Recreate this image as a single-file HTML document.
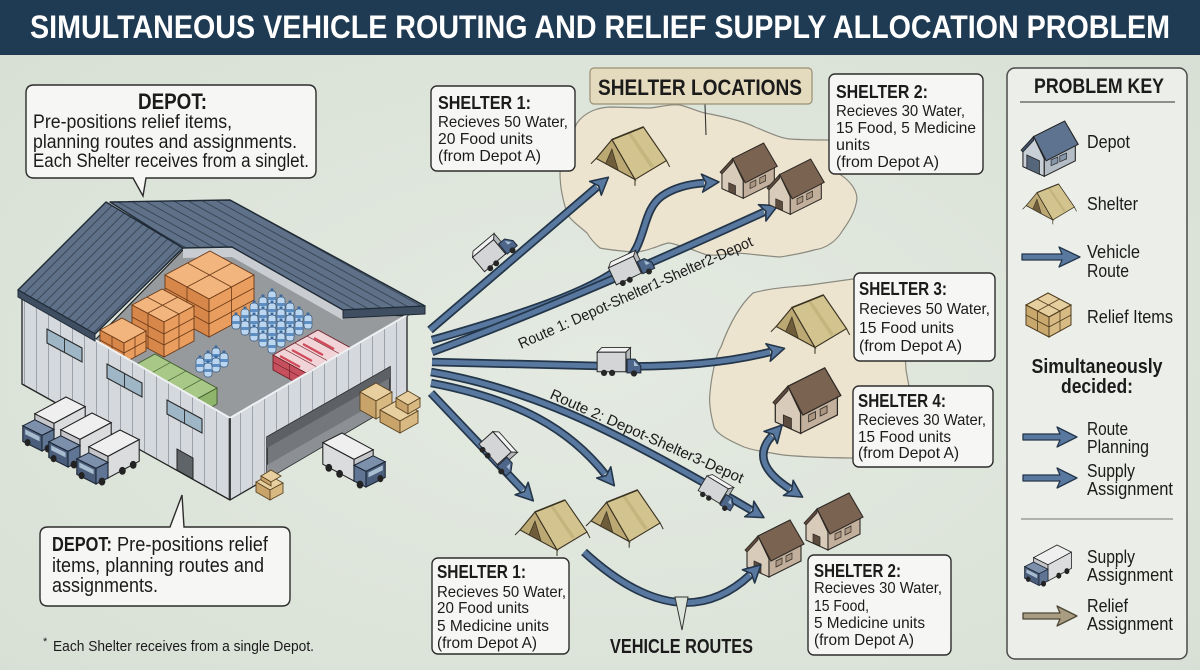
<!DOCTYPE html>
<html><head><meta charset="utf-8"><title>Simultaneous Vehicle Routing and Relief Supply Allocation Problem</title>
<style>
html,body{margin:0;padding:0;width:1200px;height:670px;overflow:hidden;background:#dde5da}
svg{display:block}
text{font-family:"Liberation Sans Narrow","Liberation Sans",sans-serif;fill:#1b1b1b}
.b{font-weight:bold}
.box{fill:#f6f7f4;stroke:#2d2d2d;stroke-width:1.4}
.ro{fill:none;stroke:#24364a;stroke-width:8.5}
.ri{fill:none;stroke:#5878a0;stroke-width:5}
.ol{stroke:#222;stroke-width:1.3;stroke-linejoin:round}
.cl{fill:none;stroke:#6b3a18;stroke-width:.8}
</style></head><body>
<svg xmlns="http://www.w3.org/2000/svg" width="1200" height="670" viewBox="0 0 1200 670">
<defs>
<radialGradient id="bg" cx="50%" cy="55%" r="75%"><stop offset="0" stop-color="#e4eae1"/><stop offset="1" stop-color="#d7dfd4"/></radialGradient>
<pattern id="wall" patternUnits="userSpaceOnUse" width="12" height="20"><rect width="12" height="20" fill="#d5d9de"/><line x1="0.5" y1="0" x2="0.5" y2="20" stroke="#9da3aa" stroke-width="1"/></pattern>
<pattern id="roofL" patternUnits="userSpaceOnUse" width="7" height="7" patternTransform="rotate(-45)"><rect width="7" height="7" fill="#5f7189"/><line x1="0" y1="0.5" x2="7" y2="0.5" stroke="#3a4757" stroke-width="1"/></pattern>
<pattern id="roofR" patternUnits="userSpaceOnUse" width="7" height="7" patternTransform="rotate(29)"><rect width="7" height="7" fill="#5f7189"/><line x1="0" y1="0.5" x2="7" y2="0.5" stroke="#3a4757" stroke-width="1"/></pattern>
<marker id="ah" viewBox="-5 -12 24 24" markerWidth="24" markerHeight="24" refX="0" refY="0" markerUnits="userSpaceOnUse" orient="auto-start-reverse"><path d="M-2,-9 L15,0 L-2,9 L2,0 Z" fill="#5878a0" stroke="#24364a" stroke-width="1.6" stroke-linejoin="round"/></marker>

<g id="bt"><rect x="0" y="3" width="8" height="14" rx="3" fill="#bcd6ef" stroke="#34587f" stroke-width=".7"/><rect x="0.4" y="9" width="7.2" height="3" fill="#5d8fc4"/><rect x="2.5" y="0.5" width="3" height="3" fill="#3d6a9c"/></g>

<g id="hs">
 <polygon points="2,46 2,28 13,15 24,38 24,56" fill="#d9cbb9" stroke="#2e2a26" stroke-width="1.1"/>
 <polygon points="24,38 56,22 56,40 24,56" fill="#c2b09c" stroke="#2e2a26" stroke-width="1.1"/>
 <polygon points="13,15 45,-1 59,23 26,40" fill="#7b6352" stroke="#2e2a26" stroke-width="1.1"/>
 <polygon points="13,15 0,29 2,31 13,19" fill="#5e4a3c" stroke="#2e2a26" stroke-width=".8"/>
 <polygon points="9,40 16,43 16,52 9,49" fill="#5c4b3f" stroke="#2e2a26" stroke-width=".7"/>
 <polygon points="31,40 37,37 37,43 31,46" fill="#a99580" stroke="#2e2a26" stroke-width=".7"/>
 <polygon points="41,35 47,32 47,38 41,41" fill="#a99580" stroke="#2e2a26" stroke-width=".7"/>
</g>

<g id="tn">
 <line x1="3" y1="30" x2="-2" y2="35" stroke="#3a3322" stroke-width="1"/>
 <line x1="40" y1="50" x2="40" y2="56" stroke="#3a3322" stroke-width="1"/>
 <line x1="70" y1="32" x2="73" y2="38" stroke="#3a3322" stroke-width="1"/>
 <polygon points="18,12 48,0 70,32 40,50" fill="#d3c48f" stroke="#3a3322" stroke-width="1.1"/>
 <polygon points="33,6 36,5 58,37 55,39" fill="#c4b47e"/>
 <polygon points="3,30 18,12 40,50" fill="#bca873" stroke="#3a3322" stroke-width="1.1"/>
 <polygon points="18,21 12,35 24,41" fill="#6e5c3a" stroke="#3a3322" stroke-width=".7"/>
 <line x1="18" y1="12" x2="48" y2="0" stroke="#3a3322" stroke-width="1.6"/>
</g>

<g id="trk">
 <polygon points="14,14 40,0 56,8 30,22" fill="#efefef" stroke="#222" stroke-width=".9"/>
 <polygon points="14,14 30,22 30,40 14,32" fill="#c4c6c9" stroke="#222" stroke-width=".9"/>
 <polygon points="30,22 56,8 56,26 30,40" fill="#dadcde" stroke="#222" stroke-width=".9"/>
 <polygon points="4,24 14,19 30,27 20,32" fill="#7c90ab" stroke="#1c2533" stroke-width=".9"/>
 <polygon points="4,24 20,32 20,45 4,37" fill="#4a5e7b" stroke="#1c2533" stroke-width=".9"/>
 <polygon points="20,32 30,27 30,40 20,45" fill="#5f7593" stroke="#1c2533" stroke-width=".9"/>
 <polygon points="6,27 18,33 18,37 6,31" fill="#a9bdd0"/>
 <ellipse cx="25" cy="43" rx="2.8" ry="3.3" fill="#222"/>
 <ellipse cx="42" cy="34" rx="2.8" ry="3.3" fill="#222"/>
 <ellipse cx="51" cy="29" rx="2.8" ry="3.3" fill="#222"/>
 <ellipse cx="8" cy="38" rx="2.5" ry="3" fill="#222"/>
</g>

<g id="rt">
 <polygon points="-19,-12 6,-12 10,-16 -15,-16" fill="#f2f2f2" stroke="#2a2a2a" stroke-width=".8"/>
 <polygon points="6,-12 10,-16 10,1 6,5" fill="#b5b8bb" stroke="#2a2a2a" stroke-width=".8"/>
 <rect x="-19" y="-12" width="25" height="17" fill="#d4d5d7" stroke="#2a2a2a" stroke-width=".9"/>
 <path d="M7,-6 H14 L19,0 V6 H7 Z" fill="#4d6689" stroke="#1d2839" stroke-width=".9"/>
 <path d="M13,-4.5 L17,0 H13 Z" fill="#a9bfd4"/>
 <circle cx="-13" cy="6" r="2.7" fill="#262626"/><circle cx="-6" cy="6" r="2.7" fill="#262626"/><circle cx="13" cy="6.5" r="2.7" fill="#262626"/>
</g>
</defs>

<!-- background -->
<rect width="1200" height="670" fill="url(#bg)"/>

<!-- title bar -->
<rect x="0" y="0" width="1200" height="55" fill="#1f3a53"/>
<text x="600" y="38" text-anchor="middle" class="b" font-size="32" style="fill:#ffffff" textLength="1140" lengthAdjust="spacingAndGlyphs">SIMULTANEOUS VEHICLE ROUTING AND RELIEF SUPPLY ALLOCATION PROBLEM</text>

<!-- shelter area blobs -->
<path d="M577,123 C585,112 598,107 612,107 L650,108 C665,106 672,104 680,105 C692,108 700,113 710,114 C730,118 745,122 755,127 C770,133 780,138 790,139 C805,140 815,140 830,140 L832,170 C845,176 856,186 857,198 C856,210 850,220 843,230 C837,240 828,248 814,250 C800,254 792,255 780,257 C765,256 752,254 737,253 C725,254 718,256 707,255 C695,251 690,248 683,247 C675,244 670,243 668,243 C660,245 657,247 653,248 C645,251 640,252 633,252 C620,251 610,250 600,248 C594,243 590,238 587,233 C578,225 570,220 567,213 C563,200 560,188 560,173 C562,158 570,138 577,123 Z" fill="#ede4d0" stroke="#8b8a7f" stroke-width="1.2"/>
<path d="M753,293 C770,288 790,287 810,285 L860,278 L902,300 L906,370 L910,392 L860,458 C830,458 805,457 783,455 C765,452 752,450 744,447 C728,440 717,434 714,427 C710,412 709,400 710,393 C711,380 713,372 714,367 C716,358 719,350 721,347 C730,322 740,305 753,293 Z" fill="#ede4d0" stroke="#8b8a7f" stroke-width="1.2"/>

<!-- ================= WAREHOUSE ================= -->
<polygon points="95,340 183,250 232,249 343,313 407,316 230,418" fill="#979a9d" stroke="#222" stroke-width="1.2"/>
<polygon points="183,249 232,248 343,311 343,320 232,257 183,258" fill="#c9cdd1"/>

<!-- orange stack C -->
<polygon points="165,275 210,251 254,275 209,299" fill="#f2b57e" stroke="#6b3a18" stroke-width=".9"/>
<polygon points="165,275 209,299 209,337 165,313" fill="#d8874a" stroke="#6b3a18" stroke-width=".9"/>
<polygon points="209,299 254,275 254,313 209,337" fill="#e99d5e" stroke="#6b3a18" stroke-width=".9"/>
<path class="cl" d="M165,288 L209,312 M165,300 L209,324 M187,287 L187,325 M209,312 L254,288 M209,324 L254,300 M231.5,287 L231.5,325 M187.5,263 L231.5,287 M187,287 L232,263"/>
<!-- orange stack B -->
<polygon points="132,305 162,289 194,306 164,322" fill="#f2b57e" stroke="#6b3a18" stroke-width=".9"/>
<polygon points="132,305 164,322 164,357 132,340" fill="#d8874a" stroke="#6b3a18" stroke-width=".9"/>
<polygon points="164,322 194,306 194,341 164,357" fill="#e99d5e" stroke="#6b3a18" stroke-width=".9"/>
<path class="cl" d="M132,317 L164,334 M132,328 L164,345 M148,313 L148,348 M164,334 L194,318 M164,345 L194,329 M179,314 L179,349 M147,297 L179,314 M148,313 L178,297"/>
<!-- orange stack A -->
<polygon points="100,330 122,318 146,331 124,343" fill="#f2b57e" stroke="#6b3a18" stroke-width=".9"/>
<polygon points="100,330 124,343 124,363 100,350" fill="#d8874a" stroke="#6b3a18" stroke-width=".9"/>
<polygon points="124,343 146,331 146,351 124,363" fill="#e99d5e" stroke="#6b3a18" stroke-width=".9"/>
<path class="cl" d="M100,340 L124,353 M124,353 L146,341 M112,336 L112,356 M135,337 L135,357"/>

<!-- green pallets -->
<polygon points="135,365 155,354 217,388 197,399" fill="#a7c886" stroke="#3f5a2a" stroke-width=".9"/>
<polygon points="135,365 197,399 197,415 135,381" fill="#7ea35c" stroke="#3f5a2a" stroke-width=".9"/>
<polygon points="197,399 217,388 217,404 197,415" fill="#8fb56c" stroke="#3f5a2a" stroke-width=".9"/>
<path d="M150.5,373.5 L170.5,362.5 M166,382 L186,371 M181.5,390.5 L201.5,379.5 M135,373 L197,407 M150.5,373.5 V389.5 M166,382 V398 M181.5,390.5 V406.5" fill="none" stroke="#3f5a2a" stroke-width=".7"/>

<!-- water bottles big cluster -->
<polygon points="232,322 268,300 312,324 276,348" fill="#7f8a95" opacity=".35"/>
<use href="#bt" x="268" y="288"/>
<use href="#bt" x="259" y="294"/><use href="#bt" x="277" y="294"/>
<use href="#bt" x="250" y="300"/><use href="#bt" x="268" y="300"/><use href="#bt" x="286" y="300"/>
<use href="#bt" x="241" y="306"/><use href="#bt" x="259" y="306"/><use href="#bt" x="277" y="306"/><use href="#bt" x="295" y="306"/>
<use href="#bt" x="232" y="312"/><use href="#bt" x="250" y="312"/><use href="#bt" x="268" y="312"/><use href="#bt" x="286" y="312"/><use href="#bt" x="304" y="312"/>
<use href="#bt" x="241" y="318"/><use href="#bt" x="259" y="318"/><use href="#bt" x="277" y="318"/><use href="#bt" x="295" y="318"/>
<use href="#bt" x="250" y="324"/><use href="#bt" x="268" y="324"/><use href="#bt" x="286" y="324"/>
<use href="#bt" x="259" y="330"/><use href="#bt" x="277" y="330"/>
<use href="#bt" x="268" y="336"/>
<!-- small water cluster -->
<use href="#bt" x="212" y="345"/><use href="#bt" x="204" y="350"/><use href="#bt" x="220" y="350"/>
<use href="#bt" x="196" y="355"/><use href="#bt" x="212" y="355"/><use href="#bt" x="204" y="360"/>

<!-- red boxes -->
<polygon points="273,355 318,330 351,348 306,373" fill="#f1d4d7" stroke="#6e1f28" stroke-width=".9"/>
<polygon points="273,355 306,373 306,388 273,370" fill="#c6505d" stroke="#6e1f28" stroke-width=".9"/>
<polygon points="306,373 351,348 351,363 306,388" fill="#d9707b" stroke="#6e1f28" stroke-width=".9"/>
<path d="M284,349 L317,367 M295,343 L328,361 M307,336 L340,354 M289.5,364 L289.5,379 M273,362 L306,380 M306,380 L351,355 M321,365 V380 M336,357 V372" fill="none" stroke="#6e1f28" stroke-width=".7"/>
<path d="M280,356 L300,367 M292,350 L312,361 M303,344 L323,355 M314,338 L334,349" fill="none" stroke="#d24a5a" stroke-width="2.2"/>

<!-- front walls -->
<polygon points="22,296 95,340 230,418 230,500 22,384" fill="url(#wall)" class="ol"/>
<polygon points="230,418 407,315 407,397 230,500" fill="url(#wall)" class="ol"/>
<polyline points="95,340 230,418 407,315" fill="none" stroke="#eef0f2" stroke-width="2"/>
<line x1="230" y1="418" x2="230" y2="500" stroke="#222" stroke-width="1.5"/>
<!-- windows -->
<polygon points="47,329 82,348 82,362 47,343" fill="#9fb6c6" stroke="#2a2a2a" stroke-width="1.1"/>
<line x1="64.5" y1="338.5" x2="64.5" y2="352.5" stroke="#2a2a2a" stroke-width=".9"/>
<polygon points="107,364 142,383 142,397 107,378" fill="#9fb6c6" stroke="#2a2a2a" stroke-width="1.1"/>
<line x1="124.5" y1="373.5" x2="124.5" y2="387.5" stroke="#2a2a2a" stroke-width=".9"/>
<polygon points="167,400 202,419 202,433 167,414" fill="#9fb6c6" stroke="#2a2a2a" stroke-width="1.1"/>
<line x1="184.5" y1="409.5" x2="184.5" y2="423.5" stroke="#2a2a2a" stroke-width=".9"/>
<!-- door -->
<polygon points="177,449 193,458 193,479 177,470" fill="#5f6469" stroke="#222" stroke-width="1"/>
<!-- garage -->
<polygon points="267,437 390,367 390,407 267,479" fill="#74787c" stroke="#222" stroke-width="1.4"/>
<polygon points="267,437 390,367 390,378 267,448" fill="#5d6165"/>
<polygon points="267,465 390,395 390,407 267,479" fill="#8c9094"/>
<!-- crates in garage -->
<polygon points="360,392 376,383 392,392 376,401" fill="#e8cfa0" stroke="#5a4422" stroke-width=".9"/>
<polygon points="360,392 376,401 376,419 360,410" fill="#c9a46a" stroke="#5a4422" stroke-width=".9"/>
<polygon points="376,401 392,392 392,410 376,419" fill="#d9b982" stroke="#5a4422" stroke-width=".9"/>
<polygon points="380,410 398,400 418,411 400,421" fill="#e8cfa0" stroke="#5a4422" stroke-width=".9"/>
<polygon points="380,410 400,421 400,433 380,422" fill="#c9a46a" stroke="#5a4422" stroke-width=".9"/>
<polygon points="400,421 418,411 418,423 400,433" fill="#d9b982" stroke="#5a4422" stroke-width=".9"/>
<polygon points="398,400 410,393 422,400 410,407" fill="#e8cfa0" stroke="#5a4422" stroke-width=".9" transform="translate(-2,-2)"/>
<polygon points="396,398 408,405 408,414 396,407" fill="#c9a46a" stroke="#5a4422" stroke-width=".9"/>
<polygon points="408,405 420,398 420,407 408,414" fill="#d9b982" stroke="#5a4422" stroke-width=".9"/>
<!-- crates near corner -->
<polygon points="256,482 269,475 283,483 270,490" fill="#e8cfa0" stroke="#5a4422" stroke-width=".9"/>
<polygon points="256,482 270,490 270,500 256,492" fill="#c9a46a" stroke="#5a4422" stroke-width=".9"/>
<polygon points="270,490 283,483 283,493 270,500" fill="#d9b982" stroke="#5a4422" stroke-width=".9"/>
<polygon points="261,476 271,470 281,476 271,482" fill="#e8cfa0" stroke="#5a4422" stroke-width=".9"/>
<polygon points="261,476 271,482 271,486 261,480" fill="#c9a46a" stroke="#5a4422" stroke-width=".9"/>

<!-- roofs -->
<polygon points="110,202 230,200 425,306 343,310 232,247 183,248" fill="url(#roofR)" stroke="#1f2a36" stroke-width="1.4" stroke-linejoin="round"/>
<polygon points="343,310 425,306 425,314 343,318" fill="#3f4f61" stroke="#1f2a36" stroke-width="1"/>
<polygon points="18,290 106,202 183,248 95,334" fill="url(#roofL)" stroke="#1f2a36" stroke-width="1.4" stroke-linejoin="round"/>
<polygon points="18,290 95,334 95,341 18,297" fill="#3f4f61" stroke="#1f2a36" stroke-width="1"/>

<!-- trucks at depot -->
<use href="#trk" transform="translate(18,397) scale(1.2)"/>
<use href="#trk" transform="translate(44,413) scale(1.2)"/>
<use href="#trk" transform="translate(72,430) scale(1.2)"/>
<use href="#trk" transform="translate(390,433) scale(-1.2,1.2)"/>

<!-- ================= ROUTES ================= -->
<path class="ro" d="M430,330 L597,187"/>
<path class="ri" d="M430,330 L597,187" marker-end="url(#ah)"/>
<path class="ro" d="M432,340 C520,315 590,292 622,266 C648,245 640,212 662,196 C675,187 690,184 704,183"/>
<path class="ri" d="M432,340 C520,315 590,292 622,266 C648,245 640,212 662,196 C675,187 690,184 704,183" marker-end="url(#ah)"/>
<path class="ro" d="M432,352 Q560,305 764,212"/>
<path class="ri" d="M432,352 Q560,305 764,212" marker-end="url(#ah)"/>
<path class="ro" d="M432,362 L600,366 C680,368 730,362 770,352"/>
<path class="ri" d="M432,362 L600,366 C680,368 730,362 770,352" marker-end="url(#ah)"/>
<path class="ro" d="M431,372 C490,382 550,403 605,430 C650,452 700,480 751,510"/>
<path class="ri" d="M431,372 C490,382 550,403 605,430 C650,452 700,480 751,510" marker-end="url(#ah)"/>
<path class="ro" d="M431,383 C520,400 570,430 605,474"/>
<path class="ri" d="M431,383 C520,400 570,430 605,474" marker-end="url(#ah)"/>
<path class="ro" d="M431,393 L523,490"/>
<path class="ri" d="M431,393 L523,490" marker-end="url(#ah)"/>

<!-- route labels -->
<text x="521" y="349" font-size="15" transform="rotate(-24 521 349)" textLength="255" lengthAdjust="spacingAndGlyphs">Route 1: Depot-Shelter1-Shelter2-Depot</text>
<text x="549" y="398" font-size="15" transform="rotate(24 549 398)" textLength="210" lengthAdjust="spacingAndGlyphs">Route 2: Depot-Shelter3-Depot</text>

<!-- route trucks -->
<use href="#rt" transform="translate(497,254) rotate(-40) scale(1.1)"/>
<use href="#rt" transform="translate(633,271) rotate(-25) scale(1.1)"/>
<use href="#rt" transform="translate(619,366) scale(1.15)"/>
<use href="#rt" transform="translate(497,456) rotate(48) scale(1.1)"/>
<use href="#rt" transform="translate(717,496) rotate(31) scale(1.0)"/>

<!-- shelters (tents & houses) -->
<use href="#tn" transform="translate(593,127) scale(1.05)"/>
<use href="#hs" transform="translate(720,144) scale(0.97)"/>
<use href="#hs" transform="translate(767,160) scale(0.97)"/>
<use href="#tn" transform="translate(773,295) scale(1.05)"/>
<use href="#hs" transform="translate(773,369) scale(1.15)"/>
<use href="#tn" transform="translate(517,500) scale(1.0)"/>
<use href="#tn" transform="translate(588,490) scale(1.03)"/>
<use href="#hs" transform="translate(804,494) scale(1.0)"/>
<use href="#hs" transform="translate(745,521) scale(1.0)"/>

<!-- arc + double arrow -->
<path class="ro" d="M584,552 Q680,640 750,575"/>
<path class="ri" d="M584,552 Q680,640 750,575" marker-end="url(#ah)"/>
<path class="ro" d="M772,436 Q748,462 790,489"/>
<path class="ri" d="M772,436 Q748,462 790,489" marker-start="url(#ah)" marker-end="url(#ah)"/>
<polygon points="675,597 688,597 682,630" fill="#dde5da" stroke="#333" stroke-width="1"/>

<!-- ================= CALLOUTS ================= -->
<path d="M34,85 L308,85 Q316,85 316,93 L316,170 Q316,178 308,178 L146,178 L143,196 L133,178 L34,178 Q26,178 26,170 L26,93 Q26,85 34,85 Z" class="box"/>
<text x="138" y="109" class="b" font-size="22" textLength="69" lengthAdjust="spacingAndGlyphs">DEPOT:</text>
<text x="33" y="128" font-size="19" textLength="199" lengthAdjust="spacingAndGlyphs">Pre-positions relief items,</text>
<text x="33" y="148" font-size="19" textLength="264" lengthAdjust="spacingAndGlyphs">planning routes and assignments.</text>
<text x="33" y="167" font-size="19" textLength="276" lengthAdjust="spacingAndGlyphs">Each Shelter receives from a singlet.</text>

<path d="M48,527 L170,527 L182,495 L184,527 L282,527 Q290,527 290,535 L290,598 Q290,606 282,606 L48,606 Q40,606 40,598 L40,535 Q40,527 48,527 Z" class="box"/>
<text x="52" y="551" class="b" font-size="20" textLength="60" lengthAdjust="spacingAndGlyphs">DEPOT:</text>
<text x="117" y="551" font-size="20" textLength="151" lengthAdjust="spacingAndGlyphs">Pre-positions relief</text>
<text x="52" y="572" font-size="20" textLength="212" lengthAdjust="spacingAndGlyphs">items, planning routes and</text>
<text x="52" y="592" font-size="20" textLength="106" lengthAdjust="spacingAndGlyphs">assignments.</text>

<text x="43" y="645" font-size="11">*</text>
<text x="53" y="651" font-size="15" textLength="261" lengthAdjust="spacingAndGlyphs">Each Shelter receives from a single Depot.</text>

<!-- Shelter locations label -->
<line x1="705" y1="104" x2="706" y2="135" stroke="#333" stroke-width="1.1"/>
<rect x="590" y="68" width="222" height="36" rx="4" fill="#e4dabd" stroke="#9a8f72" stroke-width="1.2"/>
<text x="598" y="95" class="b" font-size="22" textLength="204" lengthAdjust="spacingAndGlyphs">SHELTER LOCATIONS</text>

<!-- Shelter 1 top -->
<rect x="431" y="86" width="144" height="85" rx="6" class="box"/>
<text x="438" y="109" class="b" font-size="18" textLength="93" lengthAdjust="spacingAndGlyphs">SHELTER 1:</text>
<text x="438" y="127" font-size="16" textLength="130" lengthAdjust="spacingAndGlyphs">Recieves 50 Water,</text>
<text x="438" y="144" font-size="16" textLength="95" lengthAdjust="spacingAndGlyphs">20 Food units</text>
<text x="438" y="161" font-size="16" textLength="103" lengthAdjust="spacingAndGlyphs">(from Depot A)</text>

<!-- Shelter 2 top -->
<rect x="829" y="74" width="154" height="100" rx="6" class="box"/>
<text x="836" y="98" class="b" font-size="18" textLength="92" lengthAdjust="spacingAndGlyphs">SHELTER 2:</text>
<text x="836" y="116" font-size="16" textLength="129" lengthAdjust="spacingAndGlyphs">Recieves 30 Water,</text>
<text x="836" y="133" font-size="16" textLength="140" lengthAdjust="spacingAndGlyphs">15 Food, 5 Medicine</text>
<text x="836" y="150" font-size="16" textLength="34" lengthAdjust="spacingAndGlyphs">units</text>
<text x="836" y="167" font-size="16" textLength="103" lengthAdjust="spacingAndGlyphs">(from Depot A)</text>

<!-- Shelter 3 -->
<rect x="854" y="273" width="141" height="88" rx="6" class="box"/>
<text x="859" y="295" class="b" font-size="18" textLength="88" lengthAdjust="spacingAndGlyphs">SHELTER 3:</text>
<text x="859" y="314" font-size="16" textLength="131" lengthAdjust="spacingAndGlyphs">Recieves 50 Water,</text>
<text x="859" y="333" font-size="16" textLength="95" lengthAdjust="spacingAndGlyphs">15 Food units</text>
<text x="859" y="351" font-size="16" textLength="103" lengthAdjust="spacingAndGlyphs">(from Depot A)</text>

<!-- Shelter 4 -->
<rect x="853" y="386" width="140" height="81" rx="6" class="box"/>
<text x="858" y="407" class="b" font-size="18" textLength="88" lengthAdjust="spacingAndGlyphs">SHELTER 4:</text>
<text x="858" y="425" font-size="16" textLength="128" lengthAdjust="spacingAndGlyphs">Recieves 30 Water,</text>
<text x="858" y="442" font-size="16" textLength="93" lengthAdjust="spacingAndGlyphs">15 Food units</text>
<text x="858" y="458" font-size="16" textLength="101" lengthAdjust="spacingAndGlyphs">(from Depot A)</text>

<!-- Shelter 1 bottom -->
<rect x="432" y="558" width="137" height="96" rx="6" class="box"/>
<text x="437" y="578" class="b" font-size="18" textLength="89" lengthAdjust="spacingAndGlyphs">SHELTER 1:</text>
<text x="437" y="597" font-size="16" textLength="129" lengthAdjust="spacingAndGlyphs">Recieves 50 Water,</text>
<text x="437" y="613" font-size="16" textLength="92" lengthAdjust="spacingAndGlyphs">20 Food units</text>
<text x="437" y="631" font-size="16" textLength="112" lengthAdjust="spacingAndGlyphs">5 Medicine units</text>
<text x="437" y="648" font-size="16" textLength="100" lengthAdjust="spacingAndGlyphs">(from Depot A)</text>

<!-- Shelter 2 bottom -->
<rect x="808" y="555" width="143" height="100" rx="6" class="box"/>
<text x="814" y="577" class="b" font-size="18" textLength="87" lengthAdjust="spacingAndGlyphs">SHELTER 2:</text>
<text x="814" y="593" font-size="16" textLength="128" lengthAdjust="spacingAndGlyphs">Recieves 30 Water,</text>
<text x="814" y="611" font-size="16" textLength="55" lengthAdjust="spacingAndGlyphs">15 Food,</text>
<text x="814" y="628" font-size="16" textLength="111" lengthAdjust="spacingAndGlyphs">5 Medicine units</text>
<text x="814" y="645" font-size="16" textLength="100" lengthAdjust="spacingAndGlyphs">(from Depot A)</text>

<text x="610" y="653" class="b" font-size="20" textLength="143" lengthAdjust="spacingAndGlyphs">VEHICLE ROUTES</text>

<!-- ================= LEGEND ================= -->
<rect x="1007" y="68" width="180" height="591" rx="8" fill="#eceee9" stroke="#4a4a4a" stroke-width="1.5"/>
<text x="1034" y="93" class="b" font-size="21" textLength="130" lengthAdjust="spacingAndGlyphs">PROBLEM KEY</text>
<line x1="1020" y1="102" x2="1175" y2="102" stroke="#555" stroke-width="1.3"/>

<!-- depot icon -->
<g transform="translate(1021,122) scale(0.97)">
 <polygon points="2,46 2,28 13,15 24,38 24,56" fill="#c9cfd7" stroke="#222" stroke-width="1.1"/>
 <polygon points="24,38 56,22 56,40 24,56" fill="#b4bcc6" stroke="#222" stroke-width="1.1"/>
 <polygon points="13,15 45,-1 59,23 26,40" fill="#5e7390" stroke="#222" stroke-width="1.1"/>
 <polygon points="13,15 0,29 2,31 13,19" fill="#3f5069" stroke="#222" stroke-width=".8"/>
 <polygon points="6,34 19,40 19,54 6,48" fill="#55657a" stroke="#222" stroke-width=".8"/>
 <polygon points="31,39 38,36 38,42 31,45" fill="#8596a8" stroke="#222" stroke-width=".7"/>
 <polygon points="40,35 47,32 47,38 40,41" fill="#8596a8" stroke="#222" stroke-width=".7"/>
</g>
<text x="1087" y="148" font-size="18" textLength="43" lengthAdjust="spacingAndGlyphs">Depot</text>

<use href="#tn" transform="translate(1024,184) scale(0.72)"/>
<text x="1087" y="210" font-size="18" textLength="51" lengthAdjust="spacingAndGlyphs">Shelter</text>

<path d="M1022,254 H1062 L1059,247 L1080,257 L1059,267 L1062,260 H1022 Z" fill="#5878a0" stroke="#24364a" stroke-width="1.3" stroke-linejoin="round"/>
<text x="1087" y="258" font-size="18" textLength="53" lengthAdjust="spacingAndGlyphs">Vehicle</text>
<text x="1087" y="277" font-size="18" textLength="42" lengthAdjust="spacingAndGlyphs">Route</text>

<!-- relief crates icon -->
<polygon points="1026,305 1048,293 1071,305 1049,317" fill="#e6cf9f" stroke="#4e3c1e" stroke-width="1"/>
<polygon points="1026,305 1049,317 1049,337 1026,325" fill="#c9a86e" stroke="#4e3c1e" stroke-width="1"/>
<polygon points="1049,317 1071,305 1071,325 1049,337" fill="#d8bb84" stroke="#4e3c1e" stroke-width="1"/>
<path d="M1026,315 L1049,327 L1071,315 M1037.5,311 V331 M1060,311 V331 M1037,299 L1060,311 M1037.5,311 L1059.5,299" fill="none" stroke="#4e3c1e" stroke-width=".8"/>
<text x="1087" y="323" font-size="18" textLength="86" lengthAdjust="spacingAndGlyphs">Relief Items</text>

<text x="1097" y="373" text-anchor="middle" class="b" font-size="20" textLength="131" lengthAdjust="spacingAndGlyphs">Simultaneously</text>
<text x="1097" y="393" text-anchor="middle" class="b" font-size="20" textLength="72" lengthAdjust="spacingAndGlyphs">decided:</text>

<path d="M1023,434 H1060 L1057,427 L1077,437 L1057,447 L1060,440 H1023 Z" fill="#5878a0" stroke="#24364a" stroke-width="1.3" stroke-linejoin="round"/>
<text x="1087" y="435" font-size="18" textLength="41" lengthAdjust="spacingAndGlyphs">Route</text>
<text x="1087" y="453" font-size="18" textLength="62" lengthAdjust="spacingAndGlyphs">Planning</text>

<path d="M1023,475 H1060 L1057,468 L1077,478 L1057,488 L1060,481 H1023 Z" fill="#5878a0" stroke="#24364a" stroke-width="1.3" stroke-linejoin="round"/>
<text x="1087" y="477" font-size="18" textLength="48" lengthAdjust="spacingAndGlyphs">Supply</text>
<text x="1087" y="495" font-size="18" textLength="86" lengthAdjust="spacingAndGlyphs">Assignment</text>

<line x1="1021" y1="519" x2="1173" y2="519" stroke="#8a8f8a" stroke-width="1.2"/>

<use href="#trk" transform="translate(1021,545) scale(0.9)"/>
<text x="1087" y="563" font-size="18" textLength="48" lengthAdjust="spacingAndGlyphs">Supply</text>
<text x="1087" y="581" font-size="18" textLength="86" lengthAdjust="spacingAndGlyphs">Assignment</text>

<path d="M1023,613 H1060 L1057,606 L1077,616 L1057,626 L1060,619 H1023 Z" fill="#a89d80" stroke="#4d4636" stroke-width="1.3" stroke-linejoin="round"/>
<text x="1087" y="612" font-size="18" textLength="41" lengthAdjust="spacingAndGlyphs">Relief</text>
<text x="1087" y="630" font-size="18" textLength="86" lengthAdjust="spacingAndGlyphs">Assignment</text>
</svg>
</body></html>
